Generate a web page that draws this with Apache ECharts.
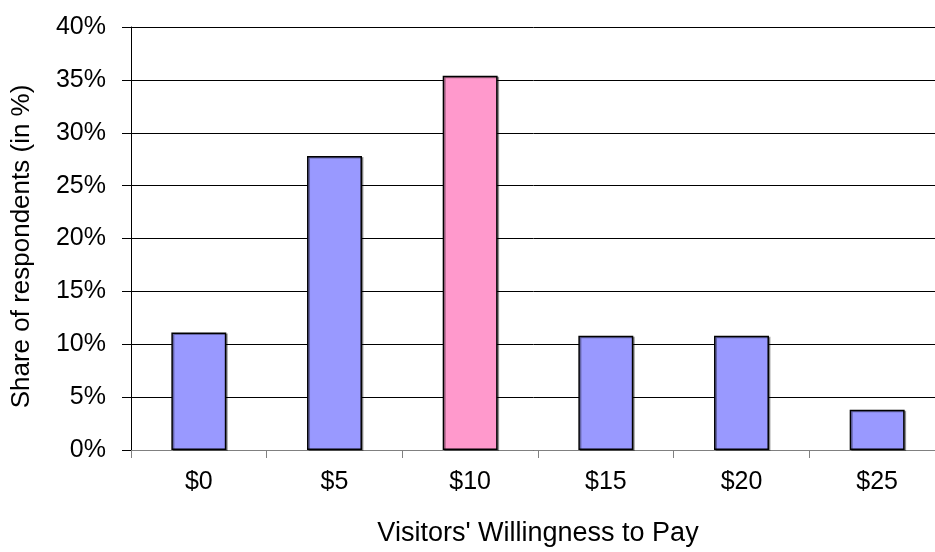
<!DOCTYPE html>
<html>
<head>
<meta charset="utf-8">
<script src="https://cdn.jsdelivr.net/npm/echarts@6/dist/echarts.min.js"></script>
<style>
  html, body { margin: 0; padding: 0; background: #fff; }
  #chart { width: 935px; height: 552px; }
</style>
</head>
<body>
<div id="chart"></div>
<script>
// 数据
var categories = ['$0', '$5', '$10', '$15', '$20', '$25'];
var shares = [11.1, 27.8, 35.4, 10.8, 10.8, 3.8];
var barColors = ['#9999FF', '#9999FF', '#FF99CC', '#9999FF', '#9999FF', '#9999FF'];

(function () {
    var mychart = echarts.init(document.getElementById('chart'));
    var font = 'Liberation Sans, Arial, sans-serif';
    var option = {
        animation: false,
        grid: {
            left: 131, top: 27, width: 814, height: 423,
            outerBoundsMode: 'none'
        },
        xAxis: {
            type: 'category',
            data: categories,
            name: "Visitors' Willingness to Pay",
            nameLocation: 'middle',
            nameGap: 70,
            nameTextStyle: { fontFamily: font, fontSize: 27, color: '#000' },
            axisLine: { lineStyle: { color: '#808080', width: 1 } },
            axisTick: { show: true, length: 8, lineStyle: { color: '#808080' } },
            axisLabel: { fontFamily: font, fontSize: 25, color: '#000', margin: 20 }
        },
        yAxis: {
            type: 'value',
            min: 0, max: 40, interval: 5,
            name: 'Share of respondents (in %)',
            nameLocation: 'middle',
            nameGap: 96,
            nameTextStyle: { fontFamily: font, fontSize: 26, color: '#000', padding: [0, 16, 0, 0] },
            axisLine: { show: true, lineStyle: { color: '#000', width: 1 } },
            axisTick: { show: true, length: 9, lineStyle: { color: '#000' } },
            axisLabel: { formatter: '{value}%', fontFamily: font, fontSize: 25, color: '#000', margin: 25 },
            splitLine: { lineStyle: { color: '#000', width: 1 } }
        },
        series: [{
            type: 'bar',
            barWidth: '40.5%',
            data: shares.map(function (v, i) {
                return { value: v, itemStyle: { color: barColors[i] } };
            }),
            itemStyle: {
                borderColor: '#000',
                borderWidth: 1.5,
                shadowColor: 'rgba(0,0,0,0.35)',
                shadowOffsetX: 1.5,
                shadowOffsetY: 1,
                shadowBlur: 0
            }
        }]
    };
    mychart.setOption(option);
})();
</script>
</body>
</html>
